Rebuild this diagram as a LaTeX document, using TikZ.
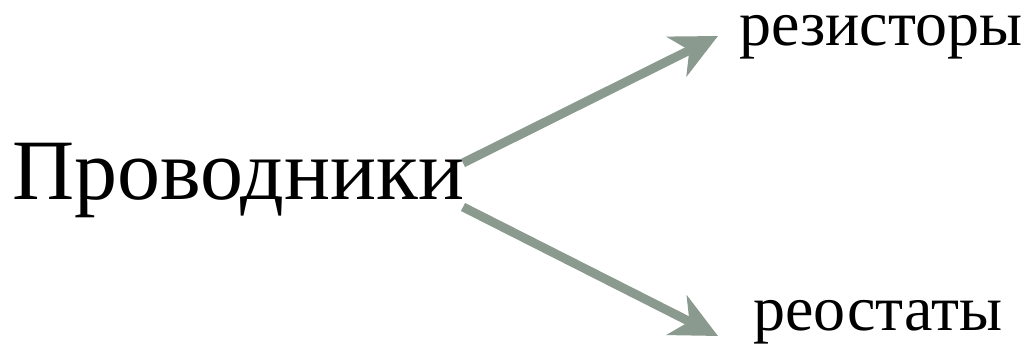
\documentclass[tikz,border=0pt]{standalone}
\usepackage{fontspec}
\setmainfont{Liberation Serif}
\usetikzlibrary{arrows.meta}
\definecolor{arrgray}{HTML}{8A9A8E}
\begin{document}
\begin{tikzpicture}[x=1pt,y=1pt,
  lbl/.style={inner sep=0pt, anchor=base west, text=black},
  conn/.style={draw=arrgray, line width=9pt, -{Stealth[length=46pt,width=44pt,inset=14pt]}}]
\useasboundingbox (0,0) rectangle (1025,344);
\node[lbl, font=\fontsize{86}{90}\selectfont] (prov) at (12,144) {Проводники};
\node[lbl, font=\fontsize{64}{67}\selectfont, text height=1.1ex, text depth=0.25em] (rez) at (739,298) {резисторы};
\node[lbl, font=\fontsize{64}{67}\selectfont, text height=1.1ex, text depth=0.2em] (reo) at (753,13) {реостаты};
\coordinate (s1) at (463,181);
\coordinate (t1) at (718,308);
\coordinate (s2) at (463,137);
\coordinate (t2) at (718,8);
\draw[conn] (s1) -- (t1);
\draw[conn] (s2) -- (t2);
\end{tikzpicture}
\end{document}
